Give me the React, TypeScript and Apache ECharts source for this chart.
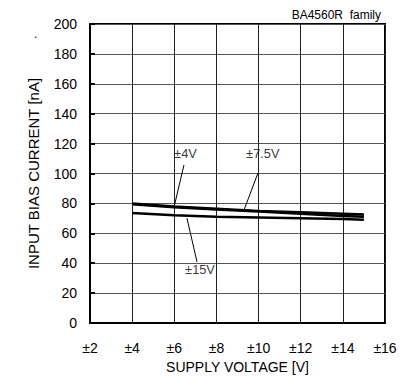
import React, { useEffect, useRef } from "react";
import * as echarts from "echarts";

const supplyV = [4, 6, 8, 10, 12, 14, 15];
const bias4V = [80, 78, 76.5, 75, 74, 73, 72.5];
const bias7_5V = [79.5, 77.5, 76, 74.5, 73, 71.5, 71];
const bias15V = [73.5, 72, 71, 70.5, 70, 69.5, 69];

const xTicks = [2, 4, 6, 8, 10, 12, 14, 16];
const yTicks = [0, 20, 40, 60, 80, 100, 120, 140, 160, 180, 200];

const labelNames = ["±4V", "±7.5V", "±15V"];
const labelPos = [
  [6.53, 113.7],
  [10.2, 113.7],
  [7.22, 35.5],
];
const leaders = [
  [[6.46, 105.7], [5.99, 77.6]],
  [[9.97, 100.3], [9.31, 75.6]],
  [[6.6, 70.2], [7.08, 40.8]],
];

const FONT = "'Liberation Sans', Arial, sans-serif";

export default function App() {
  const ref = useRef<HTMLDivElement>(null);
  useEffect(() => {
    if (!ref.current) return;
    const chart = echarts.init(ref.current, null, { renderer: "svg" });
    const mk = (vals: number[]) => supplyV.map((x, i) => [x, vals[i]]);
    const lineStyle = { color: "#000", width: 2.5 };
    chart.setOption({
      animation: false,
      backgroundColor: "#fff",
      textStyle: { fontFamily: FONT },
      title: {
        text: "BA4560R  family",
        right: 22,
        top: 4,
        textStyle: { fontSize: 12, fontWeight: "normal", color: "#000", fontFamily: FONT },
      },
      graphic: [
        { type: "text", left: 34, top: 28, style: { text: ".", fill: "#000", font: "12px " + FONT } },
      ],
      grid: {
        left: 90,
        right: 23,
        top: 24,
        bottom: 60,
        show: true,
        borderColor: "#000",
        borderWidth: 2,
      },
      xAxis: {
        type: "value",
        min: xTicks[0],
        max: xTicks[xTicks.length - 1],
        interval: 2,
        name: "SUPPLY VOLTAGE [V]",
        nameLocation: "middle",
        nameGap: 36,
        nameTextStyle: { fontSize: 14, color: "#000", fontFamily: FONT },
        axisLine: { lineStyle: { color: "#000", width: 2 } },
        axisTick: { show: false },
        axisLabel: {
          fontSize: 14,
          color: "#000",
          margin: 18,
          fontFamily: FONT,
          formatter: (v: number) => "±" + v,
        },
        splitLine: { show: true, lineStyle: { color: "#222", width: 1 } },
      },
      yAxis: {
        type: "value",
        min: yTicks[0],
        max: yTicks[yTicks.length - 1],
        interval: 20,
        name: "INPUT BIAS CURRENT [nA]",
        nameLocation: "middle",
        nameGap: 49,
        nameTextStyle: { fontSize: 15, color: "#000", fontFamily: FONT },
        axisLine: { show: true, lineStyle: { color: "#000", width: 2 } },
        axisTick: { show: true, inside: true, length: 5, lineStyle: { color: "#000", width: 2 } },
        axisLabel: { fontSize: 14, color: "#000", margin: 13, fontFamily: FONT },
        splitLine: { show: true, lineStyle: { color: "#555", width: 1 } },
      },
      series: [
        { name: labelNames[0], type: "line", data: mk(bias4V), symbol: "none", lineStyle },
        { name: labelNames[1], type: "line", data: mk(bias7_5V), symbol: "none", lineStyle },
        { name: labelNames[2], type: "line", data: mk(bias15V), symbol: "none", lineStyle },
        ...leaders.map((seg) => ({
          type: "line",
          data: seg,
          symbol: "none",
          lineStyle: { color: "#000", width: 1 },
          silent: true,
        })),
        {
          type: "scatter",
          symbolSize: 0,
          data: labelPos.map((p, i) => ({ value: p, name: labelNames[i] })),
          label: {
            show: true,
            position: "inside",
            formatter: (p: any) => p.name,
            fontSize: 12.8,
            color: "#000",
            fontFamily: FONT,
          },
          silent: true,
        },
      ],
    });
    return () => chart.dispose();
  }, []);
  return (
    <div
      ref={ref}
      style={{ position: "fixed", left: 0, top: 0, width: 408, height: 383 }}
    />
  );
}
